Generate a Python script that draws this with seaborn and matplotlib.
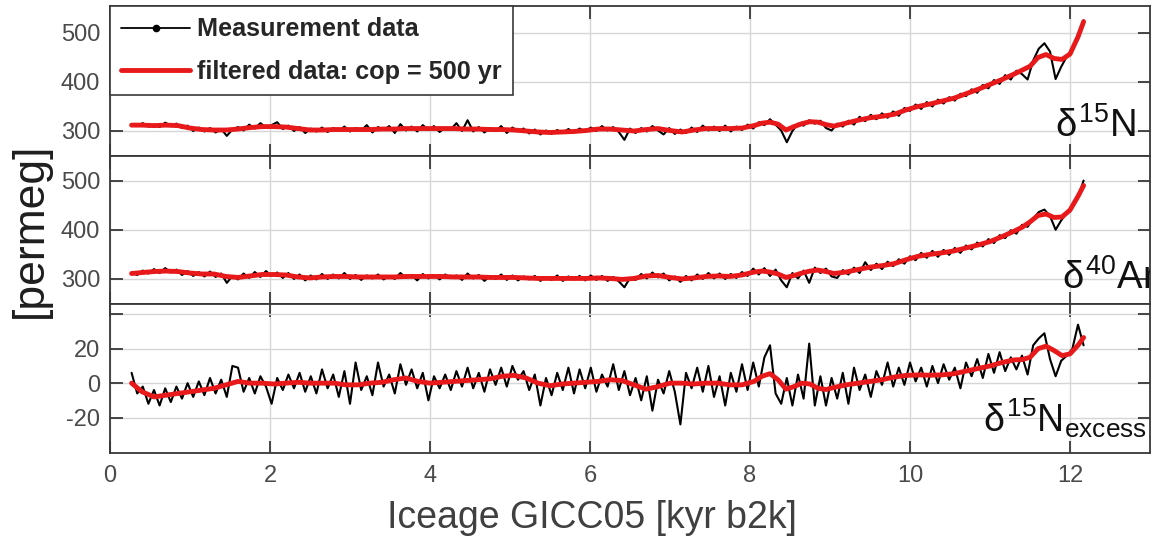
import matplotlib
matplotlib.use("Agg")
import matplotlib.pyplot as plt
import seaborn as sns
from matplotlib.lines import Line2D

# ---------------- data ----------------
age = [0.27, 0.34, 0.41, 0.48, 0.55, 0.62, 0.69, 0.76, 0.83, 0.90,
       0.97, 1.04, 1.11, 1.18, 1.25, 1.32, 1.39, 1.46, 1.53, 1.60,
       1.67, 1.74, 1.81, 1.88, 1.95, 2.02, 2.09, 2.16, 2.23, 2.30,
       2.37, 2.44, 2.51, 2.58, 2.65, 2.72, 2.79, 2.86, 2.93, 3.00,
       3.07, 3.14, 3.21, 3.28, 3.35, 3.42, 3.49, 3.56, 3.63, 3.70,
       3.77, 3.84, 3.91, 3.98, 4.05, 4.12, 4.19, 4.26, 4.33, 4.40,
       4.47, 4.54, 4.61, 4.68, 4.75, 4.82, 4.89, 4.96, 5.03, 5.10,
       5.17, 5.24, 5.31, 5.38, 5.45, 5.52, 5.59, 5.66, 5.73, 5.80,
       5.87, 5.94, 6.01, 6.08, 6.15, 6.22, 6.29, 6.36, 6.43, 6.50,
       6.57, 6.64, 6.71, 6.78, 6.85, 6.92, 6.99, 7.06, 7.13, 7.20,
       7.27, 7.34, 7.41, 7.48, 7.55, 7.62, 7.69, 7.76, 7.83, 7.90,
       7.97, 8.04, 8.11, 8.18, 8.25, 8.32, 8.39, 8.46, 8.53, 8.60,
       8.67, 8.74, 8.81, 8.88, 8.95, 9.02, 9.09, 9.16, 9.23, 9.30,
       9.37, 9.44, 9.51, 9.58, 9.65, 9.72, 9.79, 9.86, 9.93, 10.00,
       10.07, 10.14, 10.21, 10.28, 10.35, 10.42, 10.49, 10.56, 10.63, 10.70,
       10.77, 10.84, 10.91, 10.98, 11.05, 11.12, 11.19, 11.26, 11.33, 11.40,
       11.47, 11.54, 11.61, 11.68, 11.75, 11.82, 11.89, 11.96, 12.03, 12.10,
       12.17]

d15n = [314, 310, 316, 309, 313, 308, 317, 311, 315, 306,
        311, 300, 307, 299, 306, 297, 304, 290, 303, 308,
        301, 313, 305, 316, 307, 312, 318, 304, 311, 300,
        308, 296, 305, 299, 307, 298, 306, 300, 309, 299,
        306, 301, 312, 297, 308, 302, 310, 296, 314, 301,
        309, 299, 312, 302, 310, 298, 307, 303, 316, 300,
        322, 299, 308, 297, 306, 300, 310, 296, 307, 300,
        305, 295, 303, 293, 301, 294, 302, 296, 304, 297,
        305, 299, 307, 300, 310, 301, 308, 298, 282, 305,
        296, 306, 299, 310, 301, 293, 306, 294, 303, 296,
        307, 298, 311, 301, 309, 300, 311, 299, 309, 302,
        313, 305, 318, 312, 324, 313, 301, 277, 300, 315,
        311, 322, 315, 321, 306, 301, 315, 309, 321, 313,
        329, 320, 333, 324, 336, 327, 340, 331, 347, 341,
        354, 345, 359, 350, 364, 356, 369, 362, 376, 371,
        385, 378, 394, 387, 404, 396, 414, 405, 423, 416,
        405, 444, 468, 479, 462, 406, 431, 452, 466, 490,
        526]

d40ar = [313, 308, 317, 311, 320, 312, 322, 313, 319, 308,
         316, 306, 314, 305, 315, 304, 311, 292, 306, 299,
         311, 302, 314, 304, 316, 306, 313, 302, 312, 300,
         309, 297, 307, 299, 310, 300, 309, 301, 312, 300,
         308, 298, 307, 301, 309, 299, 306, 300, 312, 302,
         308, 297, 310, 301, 308, 299, 309, 302, 307, 298,
         311, 301, 308, 296, 306, 300, 309, 298, 307, 297,
         305, 299, 306, 296, 304, 298, 307, 296, 305, 299,
         306, 297, 307, 298, 306, 296, 304, 295, 283, 302,
         298, 310, 301, 313, 303, 311, 297, 305, 294, 306,
         297, 309, 300, 312, 301, 311, 300, 310, 302, 314,
         306, 321, 309, 322, 306, 319, 297, 283, 312, 301,
         317, 292, 323, 312, 321, 305, 302, 318, 309, 323,
         312, 334, 318, 331, 320, 335, 326, 340, 331, 346,
         338, 353, 343, 357, 345, 359, 349, 363, 353, 368,
         360, 374, 366, 381, 373, 389, 383, 399, 392, 410,
         406, 423, 436, 441, 428, 400, 419, 434, 446, 466,
         500]

d15n_excess = [6, -6, -2, -12, -4, -13, -3, -11, -2, -9,
               0, -8, 1, -7, 3, -6, 2, -8, 10, 9,
               -5, 3, -6, 4, -2, -12, 3, -4, 5, -3,
               6, -5, 4, -6, 8, -3, 5, -8, 7, -12,
               12, -4, 4, -7, 12, -2, 5, -6, 11, -1,
               8, -3, 6, -10, 4, -3, 5, -4, 7, -2,
               9, -3, 6, -5, 8, -1, 9, -2, 10, 2,
               7, -4, 5, -13, 3, -7, 6, -4, 9, -6,
               8, -3, 9, -5, 5, -2, 11, -4, 7, -7,
               3, -10, 4, -16, 2, -6, 7, -5, -24, 6,
               -3, 9, -5, 10, -8, 4, -13, 6, -5, 11,
               -4, 12, -2, 15, 22, -6, -12, 3, -13, 5,
               -9, 23, -13, 4, -13, 3, -9, 6, -12, 9,
               -4, 5, -8, 7, -1, 12, -2, 9, -1, 12,
               1, 9, -2, 10, 0, 11, 2, 9, -3, 12,
               4, 14, 3, 17, 6, 18, 7, 15, 8, 16,
               5, 22, 26, 29, 14, 4, 13, 16, 20, 34,
               22]

age_filt = [0.27, 0.4, 0.55, 0.7, 0.85, 1.0, 1.15, 1.3, 1.45, 1.6,
            1.75, 1.9, 2.05, 2.2, 2.35, 2.5, 2.65, 2.8, 2.95, 3.1,
            3.25, 3.4, 3.55, 3.7, 3.85, 4.0, 4.15, 4.3, 4.45, 4.6,
            4.75, 4.9, 5.05, 5.2, 5.35, 5.5, 5.65, 5.8, 5.95, 6.1,
            6.25, 6.4, 6.55, 6.7, 6.85, 7.0, 7.15, 7.3, 7.45, 7.6,
            7.75, 7.9, 8.05, 8.15, 8.25, 8.35, 8.45, 8.55, 8.65, 8.75,
            8.85, 8.95, 9.05, 9.2, 9.35, 9.5, 9.65, 9.8, 9.95, 10.1,
            10.25, 10.4, 10.55, 10.7, 10.85, 11.0, 11.15, 11.3, 11.4, 11.5,
            11.6, 11.7, 11.8, 11.9, 12.0, 12.1, 12.17]

d15n_filt = [312, 312, 311, 312, 311, 306, 303, 302, 302, 304,
             307, 309, 309, 308, 305, 302, 302, 303, 303, 303,
             303, 304, 304, 305, 305, 305, 305, 305, 304, 304,
             303, 303, 302, 300, 298, 297, 298, 299, 301, 304,
             304, 302, 300, 303, 305, 301, 298, 302, 305, 305,
             305, 306, 311, 316, 318, 314, 302, 309, 315, 319,
             318, 313, 310, 316, 322, 327, 330, 334, 343, 350,
             355, 361, 367, 376, 385, 395, 405, 416, 424, 432,
             450, 456, 448, 446, 457, 492, 523]

d40ar_filt = [311, 313, 315, 316, 315, 312, 310, 310, 305, 303,
              306, 309, 309, 308, 304, 302, 304, 305, 305, 304,
              304, 304, 304, 305, 305, 305, 305, 304, 304, 304,
              303, 303, 303, 302, 301, 301, 301, 301, 301, 302,
              301, 299, 301, 306, 307, 303, 300, 302, 305, 306,
              305, 308, 314, 316, 314, 310, 303, 307, 312, 316,
              318, 315, 311, 314, 319, 324, 327, 331, 339, 346,
              350, 353, 357, 363, 369, 376, 386, 397, 405, 416,
              429, 432, 425, 426, 440, 468, 490]

excess_filt = [0, -5, -8, -7, -6, -5, -4, -3, -1, 1,
               0, 0, -0.5, 0, 0.5, 0, 0, 0, -1, -1,
               0, 0.5, 2, 3, 1, 0, 0.5, 1, 1.5, 2,
               2.5, 4, 4.5, 3, 0, -1.5, -0.5, 0, 0.5, 1,
               2, 1.5, -1, -3.5, -2, 0, 0, -0.5, 0, 0,
               -1, -1, 1, 4, 5.5, 2, -3.5, -2, 0, -0.5,
               -3, -3.7, -2.5, -1, 0, 1, 2, 3.5, 4.5, 4.8,
               4.6, 4.8, 5.5, 7, 8.5, 10, 12, 13.5, 13.7, 15,
               20, 21.5, 19, 16, 17, 22, 26.5]

xticks = [0, 2, 4, 6, 8, 10, 12]
yticks_iso = [300, 400, 500]
yticks_ex = [-20, 0, 20, 40]
yticklabels_ex = ["-20", "0", "20", ""]
legend_labels = ["Measurement data", "filtered data: cop = 500 yr"]
panel_labels = [r"$\delta^{15}$N", r"$\delta^{40}$Ar", r"$\delta^{15}$N$_{\mathrm{excess}}$"]
xlabel = "Iceage GICC05 [kyr b2k]"
ylabel = "[permeg]"

# ---------------- style ----------------
sns.set_theme(style="white")
plt.rcParams["font.family"] = ["Liberation Sans", "DejaVu Sans"]
plt.rcParams["mathtext.fontset"] = "custom"
plt.rcParams["mathtext.rm"] = "Liberation Sans"
plt.rcParams["mathtext.it"] = "Liberation Sans"
plt.rcParams["mathtext.bf"] = "Liberation Sans:bold"

RED = "#e8191a"
SPINE = "#383838"
TICKLAB = "#4a4a4a"

fig = plt.figure(figsize=(11.56, 5.43), dpi=100)
L, W = 110 / 1156, 1040 / 1156
ax1 = fig.add_axes([L, 1 - 156 / 543, W, 150 / 543])
ax2 = fig.add_axes([L, 1 - 304 / 543, W, 148 / 543])
ax3 = fig.add_axes([L, 1 - 453 / 543, W, 149 / 543])


def style(ax, ylim, yticks, ylabels=None, show_x=False):
    ax.set_xlim(0, 13)
    ax.set_ylim(*ylim)
    ax.set_xticks(xticks)
    ax.set_yticks(yticks)
    if ylabels is not None:
        ax.set_yticklabels(ylabels)
    ax.grid(True, color="#d6d6d6", lw=1.0)
    ax.set_axisbelow(True)
    ax.tick_params(direction="in", length=9, width=1.3, color=SPINE,
                   top=True, right=True, bottom=True, left=True,
                   labelsize=17, labelcolor=TICKLAB, pad=7)
    ax.tick_params(axis="x", pad=9, labelbottom=show_x)
    for s in ax.spines.values():
        s.set_visible(True)
        s.set_color(SPINE)
        s.set_linewidth(1.3)
    ax.set_xlabel("")
    ax.set_ylabel("")


series = [(ax1, d15n, d15n_filt), (ax2, d40ar, d40ar_filt), (ax3, d15n_excess, excess_filt)]
for ax, raw, filt in series:
    sns.lineplot(x=age, y=raw, ax=ax, color="black", lw=1.5,
                 estimator=None, sort=False, legend=False)
    sns.lineplot(x=age_filt, y=filt, ax=ax, color=RED, lw=3.5,
                 estimator=None, sort=False, legend=False)

style(ax1, (249, 555), yticks_iso)
style(ax2, (249, 550), yticks_iso)
style(ax3, (-40.6, 46), yticks_ex, yticklabels_ex, show_x=True)

# panel labels
ax1.text(0.987, 0.125, panel_labels[0], transform=ax1.transAxes, ha="right",
         va="baseline", fontsize=27.5, color="#111111")
ax2.text(1.006, 0.105, panel_labels[1], transform=ax2.transAxes, ha="right",
         va="baseline", fontsize=27.5, color="#111111", clip_on=True)
ax3.text(0.997, 0.145, panel_labels[2], transform=ax3.transAxes, ha="right",
         va="baseline", fontsize=27, color="#111111")

# legend
handles = [Line2D([], [], color="black", lw=1.3, marker="o", markersize=4.5),
           Line2D([], [], color=RED, lw=3.5)]
leg = ax1.legend(handles, legend_labels, loc="upper left", bbox_to_anchor=(0, 1),
                 borderaxespad=0, frameon=True, fancybox=False, framealpha=1,
                 edgecolor=SPINE, prop={"weight": "bold", "size": 18.2},
                 handlelength=2.7, handletextpad=0.3, labelspacing=0.72,
                 borderpad=0.45)
leg.get_frame().set_linewidth(1.2)
leg.set_zorder(10)

fig.text(592 / 1156, 1 - 518 / 543, xlabel, ha="center", va="center",
         fontsize=27, color="#404040")
fig.text(30 / 1156, 1 - 230 / 543, ylabel, ha="center", va="center",
         rotation=90, fontsize=32, color="#1e1e1e")

fig.savefig("out.png", dpi=100)
